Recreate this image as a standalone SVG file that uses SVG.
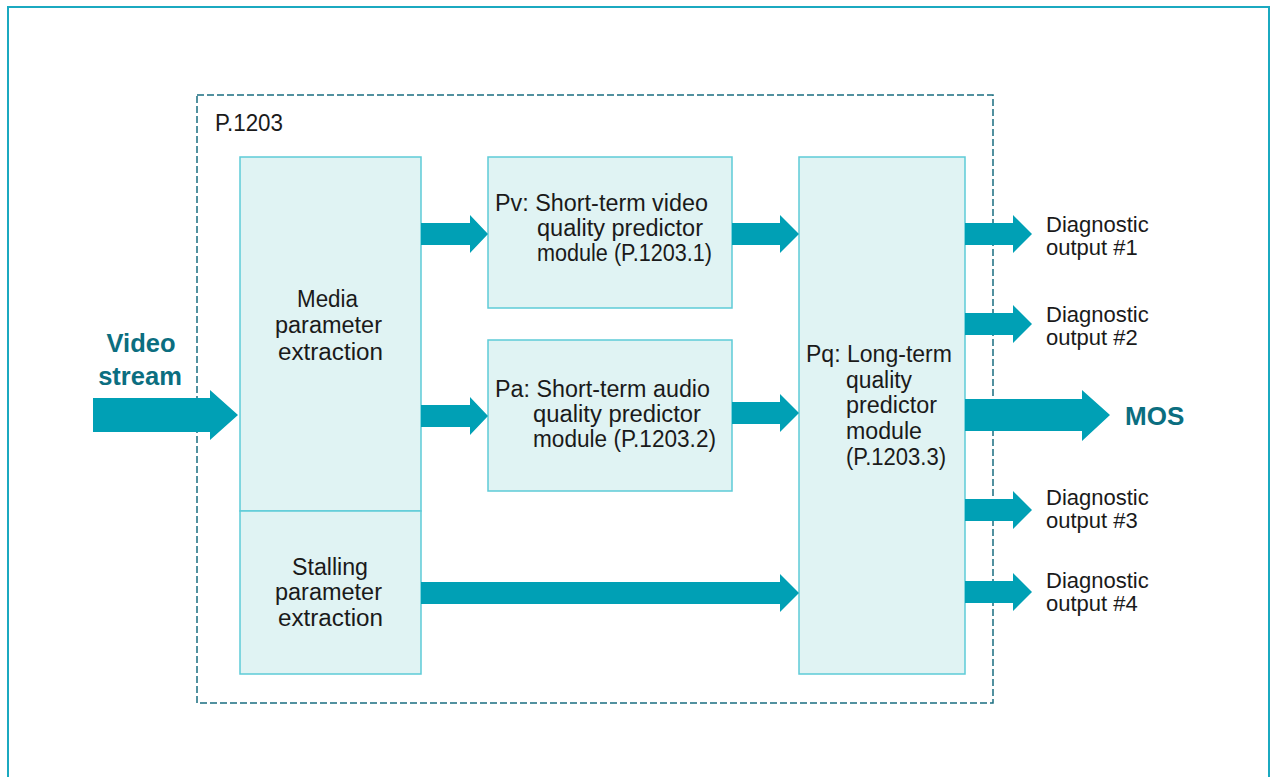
<svg xmlns="http://www.w3.org/2000/svg" width="1276" height="777" viewBox="0 0 1276 777">
<style>
.box{fill:#e0f3f3;stroke:#5ecbd7;stroke-width:1.5}
.t{font-family:"Liberation Sans",Arial,sans-serif;font-size:23px;fill:#1a1a1a}
.d{font-family:"Liberation Sans",Arial,sans-serif;font-size:22px;fill:#1a1a1a}
.c{text-anchor:middle}
.b{font-family:"Liberation Sans",Arial,sans-serif;font-weight:bold;fill:#0b6e80}
.arr{fill:#00a0b5}
</style>
<rect width="1276" height="777" fill="#fff"/>
<rect x="8" y="7" width="1261" height="800" fill="none" stroke="#1ba9c0" stroke-width="2"/>
<g id="p1203">
<rect x="197" y="95" width="796" height="608" fill="none" stroke="#1a6e80" stroke-width="1.5" stroke-dasharray="7,3"/>
<text class="t" x="215" y="131" textLength="68" lengthAdjust="spacingAndGlyphs">P.1203</text>
</g>
<g id="media">
<rect class="box" x="240" y="157" width="181" height="354"/>
<text class="t" x="297" y="307" textLength="61" lengthAdjust="spacingAndGlyphs">Media</text>
<text class="t" x="275" y="333" textLength="107" lengthAdjust="spacingAndGlyphs">parameter</text>
<text class="t" x="278" y="360" textLength="105" lengthAdjust="spacingAndGlyphs">extraction</text>
</g>
<g id="stalling">
<rect class="box" x="240" y="511" width="181" height="163"/>
<text class="t" x="292" y="575" textLength="76" lengthAdjust="spacingAndGlyphs">Stalling</text>
<text class="t" x="275" y="600" textLength="107" lengthAdjust="spacingAndGlyphs">parameter</text>
<text class="t" x="278" y="626" textLength="105" lengthAdjust="spacingAndGlyphs">extraction</text>
</g>
<g id="pv">
<rect class="box" x="488" y="157" width="244" height="151"/>
<text class="t" x="495" y="211" textLength="213" lengthAdjust="spacingAndGlyphs">Pv: Short-term video</text>
<text class="t" x="537" y="236" textLength="166" lengthAdjust="spacingAndGlyphs">quality predictor</text>
<text class="t" x="537" y="261" textLength="175" lengthAdjust="spacingAndGlyphs">module (P.1203.1)</text>
</g>
<g id="pa">
<rect class="box" x="488" y="340" width="244" height="151"/>
<text class="t" x="495" y="397" textLength="215" lengthAdjust="spacingAndGlyphs">Pa: Short-term audio</text>
<text class="t" x="533" y="422" textLength="168" lengthAdjust="spacingAndGlyphs">quality predictor</text>
<text class="t" x="533" y="447" textLength="183" lengthAdjust="spacingAndGlyphs">module (P.1203.2)</text>
</g>
<g id="pq">
<rect class="box" x="799" y="157" width="166" height="517"/>
<text class="t" x="806" y="362" textLength="146" lengthAdjust="spacingAndGlyphs">Pq: Long-term</text>
<text class="t" x="846" y="388" textLength="66" lengthAdjust="spacingAndGlyphs">quality</text>
<text class="t" x="846" y="413" textLength="91" lengthAdjust="spacingAndGlyphs">predictor</text>
<text class="t" x="846" y="439" textLength="76" lengthAdjust="spacingAndGlyphs">module</text>
<text class="t" x="846" y="465" textLength="100" lengthAdjust="spacingAndGlyphs">(P.1203.3)</text>
</g>
<g id="video-stream">
<text class="b c" x="141" y="352" font-size="25.5">Video</text>
<text class="b c" x="140" y="385" font-size="25.5">stream</text>
</g>
<g id="mos">
<text class="b" x="1125" y="425" font-size="26">MOS</text>
</g>
<g id="diag1"><text class="d" x="1046" y="232">Diagnostic</text><text class="d" x="1046" y="255">output #1</text></g>
<g id="diag2"><text class="d" x="1046" y="322">Diagnostic</text><text class="d" x="1046" y="345">output #2</text></g>
<g id="diag3"><text class="d" x="1046" y="505">Diagnostic</text><text class="d" x="1046" y="528">output #3</text></g>
<g id="diag4"><text class="d" x="1046" y="588">Diagnostic</text><text class="d" x="1046" y="611">output #4</text></g>
<g id="connectors">
<polygon class="arr" points="93,398 210,398 210,390 238,415 210,440 210,432 93,432"/>
<polygon class="arr" points="421,223 470,223 470,215 488,234 470,253 470,245 421,245"/>
<polygon class="arr" points="732,223 780,223 780,215 799,234 780,253 780,245 732,245"/>
<polygon class="arr" points="421,405 470,405 470,397 488,416 470,435 470,427 421,427"/>
<polygon class="arr" points="732,402 780,402 780,394 799,413 780,432 780,424 732,424"/>
<polygon class="arr" points="421,582 780,582 780,574 799,593 780,612 780,604 421,604"/>
<polygon class="arr" points="965,223 1013,223 1013,215 1032,234 1013,253 1013,245 965,245"/>
<polygon class="arr" points="965,313 1013,313 1013,305 1032,324 1013,343 1013,335 965,335"/>
<polygon class="arr" points="965,399 1082,399 1082,390 1110,415 1082,441 1082,431 965,431"/>
<polygon class="arr" points="965,499 1013,499 1013,491 1032,510 1013,529 1013,521 965,521"/>
<polygon class="arr" points="965,581 1013,581 1013,573 1032,592 1013,611 1013,603 965,603"/>
</g>
</svg>
